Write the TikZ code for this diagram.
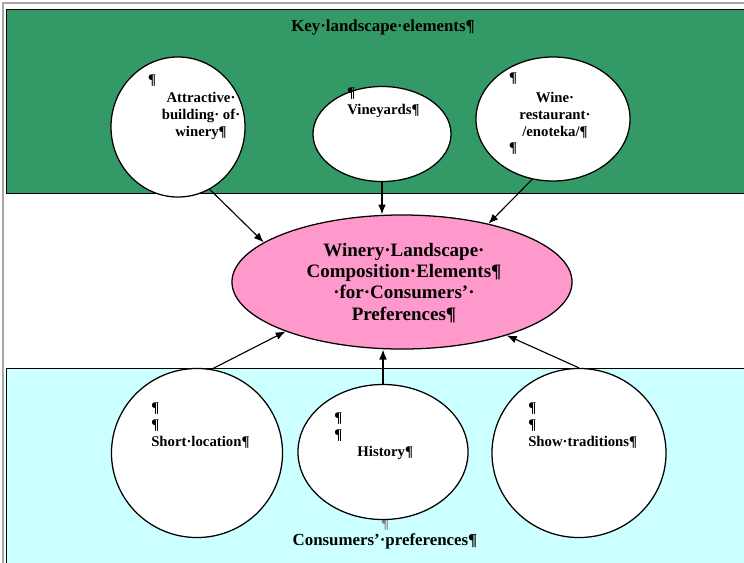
\documentclass[tikz,border=0pt]{standalone}
\usepackage{fontspec}
\setmainfont{Liberation Serif}
\usetikzlibrary{shapes.geometric, arrows.meta}
\usepackage{xcolor}

\definecolor{keygreen}{RGB}{51,153,102}
\definecolor{prefcyan}{RGB}{204,255,255}
\definecolor{corepink}{RGB}{255,153,204}

\tikzset{
  elem/.style={ellipse, draw, line width=0.9pt, fill=white, inner sep=0pt},
  lbl/.style={font=\fontsize{10.5}{12}\selectfont\bfseries, inner sep=0pt},
  pmark/.style={font=\fontsize{10.5}{12}\selectfont\bfseries, inner sep=0pt},
  band/.style={draw=black, line width=0.6pt}
}

\begin{document}
\begin{tikzpicture}[x=0.025cm, y=-0.025cm]
  \useasboundingbox (0,0) rectangle (744,562);
  \clip (0,0) rectangle (744,562);
  \fill[white] (0,0) rectangle (744,562);

  % bands
  \draw[gray!70, line width=1.2pt] (3,570) -- (3,3) -- (760,3);
  \draw[band, fill=keygreen] (6,9) rectangle (760,193);
  \draw[band, fill=prefcyan] (6,368) rectangle (760,580);

  \node[font=\fontsize{12}{14}\selectfont\bfseries, inner sep=0pt] (keytitle) at (383,27) {Key·landscape·elements¶};
  \node[font=\fontsize{12}{14}\selectfont\bfseries, inner sep=0pt] (preftitle) at (385,541) {Consumers’·preferences¶};
  \node[pmark, text=gray] (prefmark) at (385,525) {¶};

  % ellipses
  \node[elem, minimum width=3.35cm, minimum height=3.5cm] (attr) at (178,127) {};
  \node[elem, minimum width=3.45cm, minimum height=2.375cm] (vine) at (382,134) {};
  \node[elem, minimum width=3.85cm, minimum height=3.1cm] (wine) at (553,119) {};
  \node[elem, fill=corepink, minimum width=8.5cm, minimum height=3.35cm] (core) at (402,282) {};
  \node[elem, minimum width=4.275cm, minimum height=4.225cm] (short) at (197,453) {};
  \node[elem, minimum width=4.25cm, minimum height=3.375cm] (hist) at (383,452) {};
  \node[elem, minimum width=4.35cm, minimum height=4.225cm] (show) at (579,453) {};

  % texts
  \node[pmark] (attr-m) at (152,81) {¶};
  \node[lbl, align=center] (attr-t) at (201,116) {Attractive·\\building·~of·\\winery¶};
  \node[lbl, align=left, anchor=north west] (vine-t) at (347,88) {¶\\Vineyards¶};
  \node[pmark] (wine-m1) at (513,79) {¶};
  \node[lbl, align=center] (wine-t) at (555,115) {Wine·\\restaurant·\\/enoteka/¶};
  \node[pmark] (wine-m2) at (513,149) {¶};
  \node[font=\fontsize{13.5}{15}\selectfont\bfseries, inner sep=0pt, align=center] (core-t) at (404,283)
    {Winery·Landscape·\\Composition·Elements¶\\·for·Consumers’·\\Preferences¶};
  \node[lbl, align=left, anchor=north west] (short-t) at (151,403) {¶\\¶\\Short·location¶};
  \node[lbl, align=left, anchor=north west] (hist-t) at (334,413) {¶\\¶\\\hspace*{0.58cm}History¶};
  \node[lbl, align=left, anchor=north west] (show-t) at (528,403) {¶\\¶\\Show·traditions¶};

  % arrows
  \path[-{Latex[length=7pt,width=5.5pt]}, line width=0.8pt]
    (attr.-63) edge (core.164)
    (vine.south) edge (vine.south |- core.north)
    (wine.-109) edge (core.34)
    (short.80) edge (core.-157)
    (hist.north) edge (hist.north |- core.south)
    (show.north) edge (core.-27)
    ;
\end{tikzpicture}
\end{document}
